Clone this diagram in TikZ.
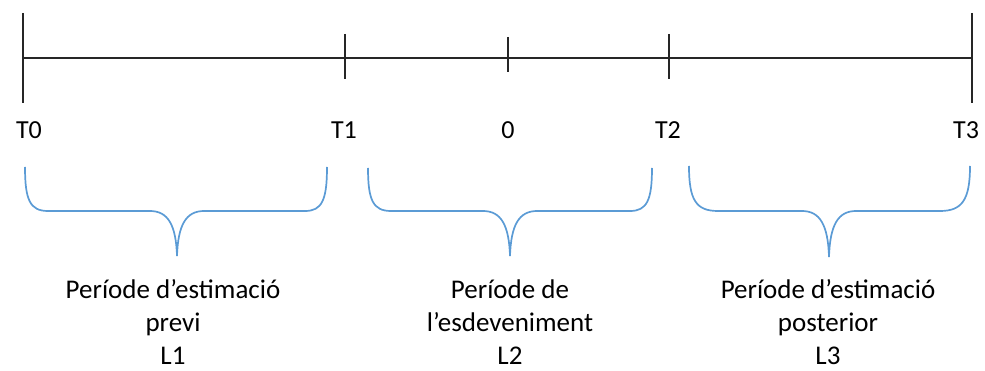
\documentclass[tikz,border=0pt]{standalone}
\usepackage{fontspec}
\setmainfont{Carlito}
\definecolor{bracecol}{RGB}{91,155,213}
\begin{document}
\begin{tikzpicture}[x=1pt,y=-1pt,
  axis/.style={line width=1.4pt,black!85},
  tickline/.style={line width=1.4pt,black!85},
  brace/.style={line width=1.7pt,bracecol},
  tlabel/.style={anchor=base,inner sep=0pt,font=\fontsize{26}{30}\selectfont},
  plabel/.style={align=center,inner sep=0pt,font=\fontsize{27}{33}\selectfont}]
\useasboundingbox (0,0) rectangle (985,371);
% ticks
\coordinate (t0a) at (23,13);  \coordinate (t0b) at (23,103);
\coordinate (t1a) at (345,34); \coordinate (t1b) at (345,79);
\coordinate (z0a) at (508,37); \coordinate (z0b) at (508,72);
\coordinate (t2a) at (669,34); \coordinate (t2b) at (669,79);
\coordinate (t3a) at (972,13); \coordinate (t3b) at (972,103);
\coordinate (L) at (23,58); \coordinate (R) at (972,58);
\draw[axis] (L) -- (R);
\draw[tickline] (t0a) -- (t0b);
\draw[tickline] (t1a) -- (t1b);
\draw[tickline] (z0a) -- (z0b);
\draw[tickline] (t2a) -- (t2b);
\draw[tickline] (t3a) -- (t3b);
% labels
\node[tlabel] (T0) at (29,139) {T0};
\node[tlabel] (T1) at (344,139) {T1};
\node[tlabel] (Z) at (508,139) {0};
\node[tlabel] (T2) at (668,139) {T2};
\node[tlabel] (T3) at (966,139) {T3};
% braces
\draw[brace] (25,167) .. controls (25,200) and (30,211) .. (48,211) -- (150,211)
  .. controls (168,211) and (176,225) .. (177,256)
  .. controls (178,225) and (186,211) .. (204,211) -- (305,211)
  .. controls (322,211) and (327,200) .. (327,167);
\draw[brace] (368,168) .. controls (368,200) and (373,211) .. (391,211) -- (483,211)
  .. controls (501,211) and (509,225) .. (510,256)
  .. controls (511,225) and (519,211) .. (537,211) -- (630,211)
  .. controls (647,211) and (652,200) .. (652,168);
\draw[brace] (689,166) .. controls (689,200) and (696,211) .. (718,211) -- (802,211)
  .. controls (820,211) and (828,225) .. (829,257)
  .. controls (830,225) and (838,211) .. (856,211) -- (940,211)
  .. controls (962,211) and (970,200) .. (970,166);
% period texts
\node[plabel] (P1) at (173,322) {Període d’estimació\\previ\\L1};
\node[plabel] (P2) at (510,322) {Període de\\l’esdeveniment\\L2};
\node[plabel] (P3) at (828,322) {Període d’estimació\\posterior\\L3};
\end{tikzpicture}
\end{document}
